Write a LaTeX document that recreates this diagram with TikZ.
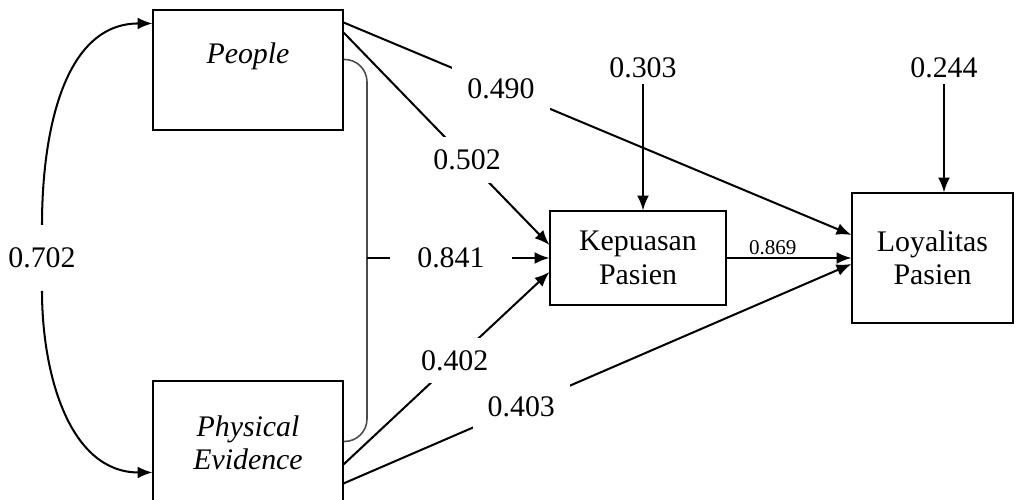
\documentclass[tikz,border=0pt]{standalone}
\usepackage{fontspec}
\setmainfont{Liberation Serif}
\usepackage{tikz}
\usetikzlibrary{arrows.meta}

\tikzset{
 box/.style={draw, line width=.6pt, align=center, inner sep=0pt, font=\fontsize{17}{19}\selectfont},
 num/.style={font=\fontsize{17}{19}\selectfont},
 coef/.style={num, fill=white, inner xsep=.3cm, inner ysep=.25cm},
 arr/.style={line width=1.15pt, -{Latex[length=8.5pt,width=6.8pt]}}
}

\begin{document}
\begin{tikzpicture}
\useasboundingbox (0,0) rectangle (20.38,10);
\node[box, minimum width=3.8cm, minimum height=2.4cm] (people) at (4.96,8.6) {\textit{People}\\~};
\node[box, minimum width=3.8cm, minimum height=2.46cm] (phys) at (4.96,1.15) {\textit{Physical}\\\textit{Evidence}};
\node[box, minimum width=3.52cm, minimum height=1.88cm] (kep) at (12.76,4.84) {Kepuasan\\Pasien};
\node[box, minimum width=3.22cm, minimum height=2.6cm] (loy) at (18.65,4.84) {Loyalitas\\Pasien};
% error terms
\node[num] (ek) at (12.86,8.64) {0.303};
\node[num] (el) at (18.88,8.64) {0.244};
\draw[arr] (ek) -- (ek |- kep.north);
\draw[arr] (el) -- (el |- loy.north);
% correlation
\node[num, inner ysep=.45cm] (r) at (0.84,4.84) {0.702};
\draw[arr] (r) to[out=90,in=180] ([yshift=-.28cm]people.north west);
\draw[arr] (r) to[out=-90,in=180] ([yshift=-1.84cm]phys.north west);
% joint effect
\coordinate (brk) at (7.34,4.84);
\draw[black!70, line width=.9pt, rounded corners=.45cm] ([yshift=-1cm]people.north east) -| (brk) |- ([yshift=-1.22cm]phys.north east);
\draw[arr] (brk) -- node[coef, pos=.46, inner xsep=.55cm]{0.841} (kep.west);
% paths
\draw[arr] ([yshift=-.26cm]people.north east) -- node[coef, pos=.31]{0.490} ([yshift=.46cm]loy.west);
\draw[arr] ([yshift=-.46cm]people.north east) -- node[coef, pos=.6]{0.502} ([yshift=.26cm]kep.west);
\draw[arr] ([yshift=-1.68cm]phys.north east) -- node[coef, pos=.54]{0.402} ([yshift=-.28cm]kep.west);
\draw[arr] ([yshift=-2.06cm]phys.north east) -- node[coef, pos=.35]{0.403} ([yshift=-.12cm]loy.west);
\draw[arr] (kep) -- node[above, pos=.37, inner sep=1pt, font=\fontsize{12}{13}\selectfont]{0.869} (loy);
\end{tikzpicture}
\end{document}
